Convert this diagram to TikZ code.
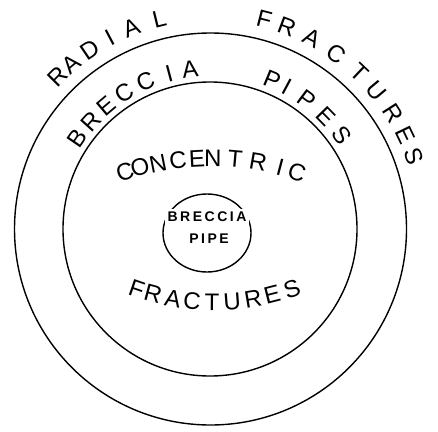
\documentclass[tikz,border=0pt]{standalone}
\usepackage{fontspec}
\setmainfont{Liberation Sans}
\usepackage{tikz}

\begin{document}
\begin{tikzpicture} %Diagrama de fracturas
  [
    x=1pt, y=1pt,
    % Estilos para no repetir código
    letra/.style={inner sep=0pt, font=\fontsize{24}{24}\selectfont},
    chica/.style={inner sep=0pt, font=\fontsize{14}{14}\selectfont\bfseries\addfontfeature{LetterSpace=18}},
    anillo/.style={line width=1.4pt}
  ]
  \useasboundingbox (0,0) rectangle (438,-431);
  \coordinate (c) at (210.5,-229);
  \coordinate (c2) at (211,-429); % centro del arco de CONCENTRIC
  \coordinate (c3) at (214,-65); % centro del arco de FRACTURES
  \draw[anillo] (c) circle (196pt);
  \draw[anillo] ([xshift=-0.5pt]c) circle (147pt);
  \draw[anillo] (207,-233) ellipse (44pt and 39pt);

  \foreach \l/\a [count=\i] in {R/135.1, A/130.0, D/124.0, I/117.8, A/111.5, L/103.7}
    \node[letra, rotate=\a-90] (rad\i) at ([shift={(\a:216pt)}]c) {\l};
  \foreach \l/\a [count=\i] in {F/75.6, R/69.3, A/62.0, C/54.3, T/46.4, U/39.8, R/32.5, E/25.7, S/19.6}
    \node[letra, rotate=\a-90] (fra\i) at ([shift={(\a:216pt)}]c) {\l};
  \foreach \l/\a [count=\i] in {B/145.7, R/137.9, E/130.3, C/122.5, C/113.8, I/104.9, A/97.3}
    \node[letra, rotate=\a-90] (bre\i) at ([shift={(\a:161pt)}]c) {\l};
  \foreach \l/\a [count=\i] in {P/67.5, I/61.7, P/53.3, E/44.4, S/35.6}
    \node[letra, rotate=\a-90] (pip\i) at ([shift={(\a:161pt)}]c) {\l};
  \foreach \l/\a [count=\i] in {C/108.5, O/105.2, N/101.3, C/97.0, E/93.0, N/89.6, T/84.9, R/80.0, I/75.2, C/71.5}
    \node[letra, rotate=\a-90] (con\i) at ([shift={(\a:271pt)}]c2) {\l};
  \foreach \l/\a [count=\i] in {F/-109.0, R/-104.9, A/-100.0, C/-95.3, T/-90.5, U/-85.6, R/-80.5, E/-75.8, S/-70.8}
    \node[letra, rotate=\a+90] (frc\i) at ([shift={(\a:237pt)}]c3) {\l};

  \node[chica, fill=white, inner sep=3pt] (breccia) at (207,-217) {BRECCIA};
  \node[chica] (pipe) at (209,-239) {PIPE};
\end{tikzpicture}
\end{document}
